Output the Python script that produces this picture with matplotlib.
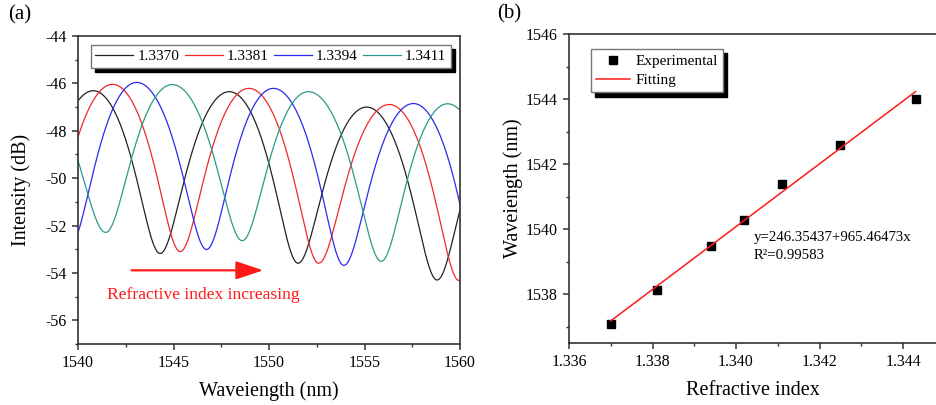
import numpy as np
import matplotlib.pyplot as plt
from matplotlib.ticker import MultipleLocator, AutoMinorLocator

plt.rcParams['font.family'] = ['Liberation Serif', 'DejaVu Serif']
plt.rcParams['axes.unicode_minus'] = False

# ---- (a) transmission spectra: extrema (nm, dB) ----
ri_labels = ['1.3370', '1.3381', '1.3394', '1.3411']
line_colors = ['#222222', '#f02828', '#2a2af0', '#2a9a8a']

wl_1 = [1537.25, 1540.80, 1544.30, 1547.92, 1551.52, 1555.11, 1558.80, 1562.50]
db_1 = [-53.00, -46.31, -53.18, -46.35, -53.59, -47.00, -54.30, -47.20]

wl_2 = [1538.20, 1541.81, 1545.35, 1548.95, 1552.60, 1556.30, 1559.95, 1563.60]
db_2 = [-53.00, -46.04, -53.10, -46.21, -53.59, -46.89, -54.32, -47.30]

wl_3 = [1539.60, 1543.07, 1546.73, 1550.23, 1553.92, 1557.56, 1561.20]
db_3 = [-52.80, -45.96, -53.01, -46.21, -53.68, -46.85, -54.50]

wl_4 = [1537.60, 1541.45, 1544.93, 1548.60, 1552.06, 1555.88, 1559.35, 1563.00]
db_4 = [-46.00, -52.29, -46.05, -52.64, -46.35, -53.51, -46.86, -54.00]

spectra = [(wl_1, db_1), (wl_2, db_2), (wl_3, db_3), (wl_4, db_4)]

# ---- (b) dip wavelength vs refractive index ----
ri = [1.3370, 1.3381, 1.3394, 1.3402, 1.3411, 1.3425, 1.3443]
dip_wl = [1537.08, 1538.14, 1539.49, 1540.28, 1541.39, 1542.59, 1544.00]
fit_a = 246.35437
fit_b = 965.46473
fit_r2 = 0.99583


def spectrum_curve(wl_ext, db_ext, n=80):
    # smooth fringe between consecutive extrema (cosine in linear power)
    xs, ys = [], []
    for i in range(len(wl_ext) - 1):
        s = np.linspace(0, 1, n)
        w = (1 - np.cos(np.pi * s)) / 2
        lin = 10 ** (db_ext[i] / 10) * (1 - w) + 10 ** (db_ext[i + 1] / 10) * w
        xs.append(wl_ext[i] + (wl_ext[i + 1] - wl_ext[i]) * s)
        ys.append(10 * np.log10(lin))
    return np.concatenate(xs), np.concatenate(ys)


def style_axes(ax):
    for sp in ax.spines.values():
        sp.set_color('#333333')
        sp.set_linewidth(1.2)
    ax.tick_params(which='major', direction='out', length=4, width=1.1,
                   labelsize=11.5, pad=4, color='#333333')
    ax.tick_params(which='minor', direction='out', length=2.5, width=1.0,
                   color='#333333')
    ax.tick_params(top=False, right=False, which='both')


shadow_props = {'ox': 3, 'oy': -3, 'color': 'black', 'alpha': 1}

fig = plt.figure(figsize=(9.36, 4.05), dpi=100)

# ------------------------- panel (a) -------------------------
ax1 = fig.add_axes([78 / 936, 1 - 344 / 405, 382 / 936, 308 / 405])
for (wl, db), c, lab in zip(spectra, line_colors, ri_labels):
    x, y = spectrum_curve(wl, db)
    ax1.plot(x, y, color=c, lw=0.9, label=lab)

ax1.set_xlim(1540, 1560)
ax1.set_ylim(-57, -44)
ax1.xaxis.set_major_locator(MultipleLocator(5))
ax1.xaxis.set_minor_locator(AutoMinorLocator(2))
ax1.yaxis.set_major_locator(MultipleLocator(2))
ax1.yaxis.set_minor_locator(AutoMinorLocator(2))
style_axes(ax1)
ax1.set_xlabel('Waveiength (nm)', fontsize=14.5)
ax1.set_ylabel('Intensity (dB)', fontsize=14.5)
ax1.xaxis.set_label_coords(0.5, -0.122)
ax1.yaxis.set_label_coords(-0.124, 0.5)

leg1 = ax1.legend(loc='upper right', ncol=4, fontsize=11, frameon=True,
                  fancybox=False, shadow=shadow_props,
                  handlelength=2.5, handletextpad=0.25, columnspacing=0.35,
                  borderaxespad=0.6, borderpad=0.3)
leg1.get_frame().set_edgecolor('#777777')
leg1.get_frame().set_linewidth(1.0)

ax1.annotate('', xy=(1549.7, -53.89), xytext=(1542.8, -53.89),
             arrowprops=dict(arrowstyle='-|>,head_length=1.2,head_width=0.4',
                             color='#ff1a1a', lw=1.6, mutation_scale=14,
                             shrinkA=0, shrinkB=0))
ax1.text(1541.5, -54.94, 'Refractive index increasing', color='#ff1a1a',
         fontsize=12.6, ha='left', va='center')

# ------------------------- panel (b) -------------------------
ax2 = fig.add_axes([569 / 936, 1 - 343 / 405, 367 / 936, 309 / 405])
ax2.plot(ri, dip_wl, 's', color='black', ms=5.5, label='Experimental')
x_fit = np.array([ri[0], ri[-1]])
ax2.plot(x_fit, fit_a + fit_b * x_fit, color='#ff1a1a', lw=1.1, label='Fitting')

ax2.set_xlim(1.336, 1.34479)
ax2.set_ylim(1536.5, 1546)
ax2.xaxis.set_major_locator(MultipleLocator(0.002))
ax2.xaxis.set_minor_locator(AutoMinorLocator(2))
ax2.yaxis.set_major_locator(MultipleLocator(2))
ax2.yaxis.set_minor_locator(AutoMinorLocator(2))
ax2.xaxis.set_major_formatter(plt.FormatStrFormatter('%.3f'))
style_axes(ax2)
ax2.spines['right'].set_visible(False)
ax2.set_xlabel('Refractive index', fontsize=14.5)
ax2.set_ylabel('Waveiength (nm)', fontsize=14.5)
ax2.xaxis.set_label_coords(0.5, -0.122)
ax2.yaxis.set_label_coords(-0.125, 0.5)

leg2 = ax2.legend(loc='upper left', bbox_to_anchor=(22 / 367, 1 - 15 / 309),
                  fontsize=11, frameon=True, fancybox=False,
                  shadow=shadow_props, handlelength=2.2,
                  handletextpad=0.35, borderaxespad=0, borderpad=0.35,
                  labelspacing=0.35)
leg2.get_frame().set_edgecolor('#777777')
leg2.get_frame().set_linewidth(1.0)

ax2.text(1.34043, 1539.95, f'y={fit_a:.5f}+{fit_b:.5f}x\nR\u00b2={fit_r2:.5f}',
         fontsize=10.7, ha='left', va='top', linespacing=1.55)

fig.text(20 / 936, 1 - 15 / 405, '(a)', fontsize=15, ha='center', va='center')
fig.text(509 / 936, 1 - 14 / 405, '(b)', fontsize=15, ha='center', va='center')

fig.savefig('out.png', dpi=100)
